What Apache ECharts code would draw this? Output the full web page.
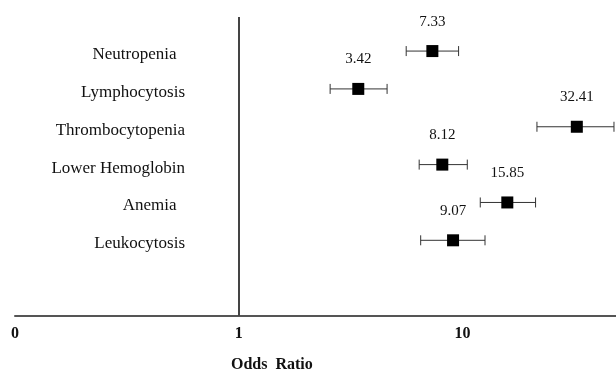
<!DOCTYPE html>
<html>
<head>
<meta charset="utf-8">
<script src="https://cdn.jsdelivr.net/npm/echarts@6/dist/echarts.min.js"></script>
<style>
  html, body { margin: 0; padding: 0; background: #fff; }
  #chart { width: 616px; height: 371px; }
</style>
</head>
<body>
<div id="chart"></div>
<script>
var categories = ['Neutropenia  ', 'Lymphocytosis', 'Thrombocytopenia', 'Lower Hemoglobin', 'Anemia  ', 'Leukocytosis'];
var oddsRatio = [7.33, 3.42, 32.41, 8.12, 15.85, 9.07];
var ciLow = [5.6, 2.56, 21.5, 6.4, 12.0, 6.5];
var ciHigh = [9.6, 4.6, 47.5, 10.5, 21.2, 12.6];

var font = '"Liberation Serif", "Times New Roman", serif';
var topRow = categories.length + 1;

var points = [];
var bars = [];
for (var i = 0; i < categories.length; i++) {
  points.push([oddsRatio[i], topRow - i]);
  bars.push([ciLow[i], topRow - i, ciHigh[i]]);
}

var chart = echarts.init(document.getElementById('chart'));

var option = {
  animation: false,
  backgroundColor: '#fff',
  title: {
    text: 'Odds  Ratio',
    left: 226,
    top: 352,
    textStyle: { fontFamily: font, fontWeight: 'bold', fontSize: 16, color: '#111' }
  },
  grid: { left: 15, right: 0, top: 17, bottom: 55, outerBoundsMode: 'none' },
  xAxis: {
    type: 'log',
    logBase: 10,
    min: 0.1,
    max: 48.5,
    axisLine: { lineStyle: { color: '#555', width: 2 } },
    axisTick: { show: false },
    splitLine: { show: false },
    axisLabel: {
      margin: 10,
      showMaxLabel: false,
      color: '#111',
      fontFamily: font,
      fontWeight: 'bold',
      fontSize: 16,
      formatter: function (v) { return v < 1 ? '0' : String(Math.round(v)); }
    }
  },
  yAxis: {
    type: 'value',
    min: 0,
    max: 7.9,
    interval: 1,
    position: 'left',
    offset: -175,
    axisLine: { show: false },
    axisTick: { show: false },
    splitLine: { show: false },
    axisLabel: {
      margin: 5,
      color: '#111',
      fontFamily: font,
      fontSize: 17,
      verticalAlign: 'top',
      lineHeight: 7,
      formatter: function (v) {
        var idx = topRow - v;
        return categories[idx] !== undefined && Number.isInteger(v) ? categories[idx] : '';
      }
    }
  },
  series: [
    {
      type: 'custom',
      data: bars,
      encode: { x: [0, 2], y: 1 },
      renderItem: function (params, api) {
        var y = api.value(1);
        var a = api.coord([api.value(0), y]);
        var b = api.coord([api.value(2), y]);
        var h = 5;
        var style = { stroke: '#333', lineWidth: 1 };
        return {
          type: 'group',
          children: [
            { type: 'line', shape: { x1: a[0], y1: a[1], x2: b[0], y2: b[1] }, style: style },
            { type: 'line', shape: { x1: a[0], y1: a[1] - h, x2: a[0], y2: a[1] + h }, style: style },
            { type: 'line', shape: { x1: b[0], y1: b[1] - h, x2: b[0], y2: b[1] + h }, style: style }
          ]
        };
      },
      z: 2
    },
    {
      type: 'scatter',
      symbol: 'rect',
      symbolSize: 12,
      data: points,
      itemStyle: { color: '#000', opacity: 1 },
      label: {
        show: true,
        position: 'top',
        distance: 16,
        color: '#111',
        fontFamily: font,
        fontSize: 15,
        formatter: function (p) { return p.value[0].toFixed(2); }
      },
      markLine: {
        silent: true,
        symbol: 'none',
        label: { show: false },
        lineStyle: { color: '#444', width: 2, type: 'solid' },
        data: [{ xAxis: 1 }]
      },
      z: 3
    }
  ]
};

chart.setOption(option);
</script>
</body>
</html>
